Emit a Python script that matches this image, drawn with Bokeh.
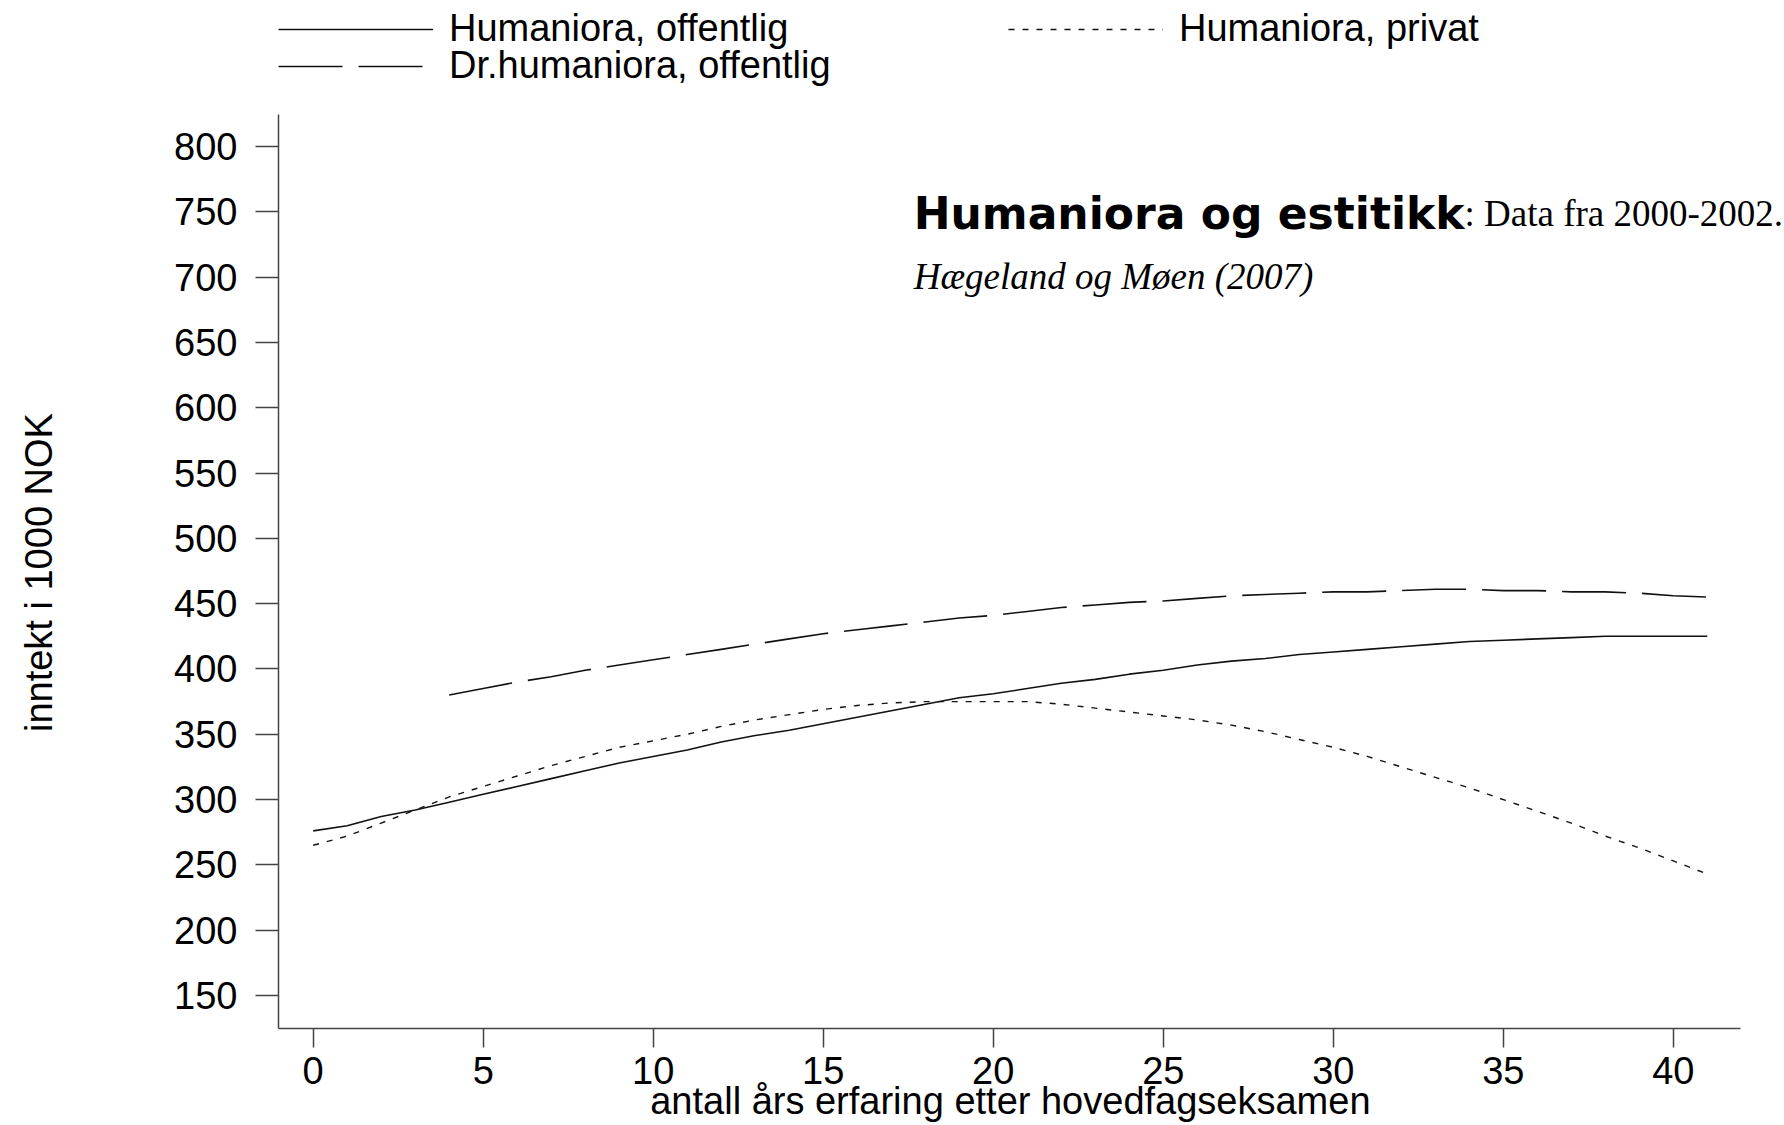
from bokeh.plotting import figure
from bokeh.models import Range1d, FixedTicker, Legend, LegendItem, Label
from bokeh.embed import file_html
from bokeh.resources import INLINE

# ---- data ----
years_hum = list(range(0, 42))
hum_offentlig = [276, 280, 287, 292, 298, 304, 310, 316, 322, 328,
                 333, 338, 344, 349, 353, 358, 363, 368, 373, 378,
                 381, 385, 389, 392, 396, 399, 403, 406, 408, 411,
                 413, 415, 417, 419, 421, 422, 423, 424, 425, 425,
                 425, 425]
hum_privat = [265, 272, 282, 292, 302, 310, 318, 326, 333, 340,
              345, 350, 356, 361, 365, 369, 372, 374, 375, 375,
              375, 375, 373, 370, 367, 364, 361, 357, 352, 346,
              340, 333, 325, 317, 309, 300, 291, 282, 272, 263,
              253, 243]
years_dr = list(range(4, 42))
dr_offentlig = [380, 385, 390, 394, 399, 403, 407, 411, 415, 419,
                423, 427, 430, 433, 436, 439, 441, 444, 447, 449,
                451, 452, 454, 456, 457, 458, 459, 459, 460, 461,
                461, 460, 460, 459, 459, 458, 456, 455]
x_ticks = [0, 5, 10, 15, 20, 25, 30, 35, 40]
y_ticks = [150, 200, 250, 300, 350, 400, 450, 500, 550, 600, 650, 700, 750, 800]
x_axis_span = (-1.02, 41.98)
y_axis_span = (124.7, 824.7)
series_names = ["Humaniora, offentlig", "Dr.humaniora, offentlig", "Humaniora, privat"]
x_label = "antall års erfaring etter hovedfagseksamen"
y_label = "inntekt i 1000 NOK"
note_bold = "Humaniora og estitikk"
note_rest = ": Data fra 2000-2002."
note_line2 = "Hægeland og Møen (2007)"

FONT = "Liberation Sans"
INK = "#111111"
AX = "#444444"
NBSP = "\u00a0"

# frame reaches the top and right of the canvas; drawn axes are limited by bounds
p = figure(width=1784, height=1125, output_backend="svg", toolbar_location=None,
           x_range=Range1d(-1.02, 43.27), y_range=Range1d(124.7, 911.8),
           min_border_left=278, min_border_right=0, min_border_top=0,
           min_border_bottom=97)
p.outline_line_color = None
p.xgrid.visible = False
p.ygrid.visible = False
p.background_fill_color = "white"
p.border_fill_color = "white"

r1 = p.line(years_hum, hum_offentlig, line_color=INK, line_width=1.6)
r2 = p.line(years_dr, dr_offentlig, line_color=INK, line_width=1.6, line_dash="64 16")
r3 = p.line(years_hum, hum_privat, line_color=INK, line_width=1.4, line_dash="6 8")

# axes
for ax in (p.xaxis[0], p.yaxis[0]):
    ax.axis_line_color = AX
    ax.axis_line_width = 1.5
    ax.major_tick_line_color = AX
    ax.major_tick_line_width = 1.5
    ax.minor_tick_line_color = None
    ax.major_tick_in = 0
    ax.major_label_text_font = FONT
    ax.major_label_text_font_size = "38px"
    ax.major_label_text_color = "black"
    ax.axis_label_text_font = FONT
    ax.axis_label_text_font_size = "38px"
    ax.axis_label_text_font_style = "normal"
    ax.axis_label_text_color = "black"

# axis labels are centred on the whole frame; pad with no-break spaces so the
# visible text is centred on the drawn axis span instead
p.xaxis[0].ticker = FixedTicker(ticks=x_ticks)
p.xaxis[0].bounds = x_axis_span
p.xaxis[0].major_tick_out = 19
p.xaxis[0].major_label_standoff = 9
p.xaxis[0].axis_label = x_label + NBSP * 4
p.xaxis[0].axis_label_standoff = -7

p.yaxis[0].ticker = FixedTicker(ticks=y_ticks)
p.yaxis[0].bounds = y_axis_span
p.yaxis[0].major_tick_out = 23
p.yaxis[0].major_label_standoff = 18
p.yaxis[0].major_label_orientation = "horizontal"
p.yaxis[0].axis_label = y_label + NBSP * 11
p.yaxis[0].axis_label_standoff = 111

# legend rows at the top of the frame
def make_legend(items, loc):
    return Legend(items=items, location=loc, orientation="horizontal",
                  label_text_font=FONT, label_text_font_size="38px",
                  label_text_color="black", glyph_width=155, glyph_height=36,
                  label_height=36, label_width=559, label_standoff=16,
                  spacing=0, padding=0, margin=0, border_line_color=None,
                  background_fill_alpha=0)

leg_row1 = make_legend([LegendItem(label=series_names[0], renderers=[r1]),
                        LegendItem(label=series_names[2], renderers=[r3])], (0, 978))
leg_row2 = make_legend([LegendItem(label=series_names[1], renderers=[r2])], (0, 941))
p.add_layout(leg_row1, "center")
p.add_layout(leg_row2, "center")

# annotation text
lb1 = Label(x=17.66, y=749, text=note_bold, text_font="DejaVu Sans",
            text_font_style="bold", text_font_size="44px", text_color="black",
            text_baseline="alphabetic")
lb2 = Label(x=33.86, y=749, text=note_rest, text_font="Liberation Serif",
            text_font_size="37px", text_color="black", text_baseline="alphabetic")
lb3 = Label(x=17.66, y=700.5, text=note_line2, text_font="Liberation Serif",
            text_font_style="italic", text_font_size="37px", text_color="black",
            text_baseline="alphabetic")
for lb in (lb1, lb2, lb3):
    p.add_layout(lb)

open("out.html", "w").write(file_html(p, INLINE))
